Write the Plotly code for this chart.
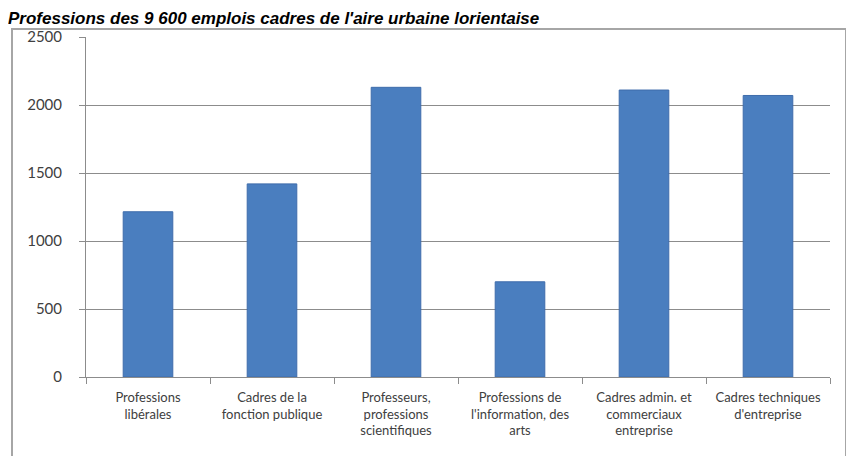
import plotly.graph_objects as go

categories = [
    "Professions<br>libérales",
    "Cadres de la<br>fonction publique",
    "Professeurs,<br>professions<br>scientifiques",
    "Professions de<br>l'information, des<br>arts",
    "Cadres admin. et<br>commerciaux<br>entreprise",
    "Cadres techniques<br>d'entreprise",
]
values = [1215, 1420, 2130, 700, 2110, 2070]
y_ticks = [0, 500, 1000, 1500, 2000, 2500]
title_text = "Professions des 9 600 emplois cadres de l'aire urbaine lorientaise"

# the page adds an 8px body margin, so the figure is sized to fit the window
W, H = 846, 448
L, R, T, B = 78, 24, 29, 79
pw, ph = W - L - R, H - T - B

def px(x):
    return (x - L) / pw

def py(y):
    return (H - B - y) / ph

fig = go.Figure()
fig.add_trace(go.Bar(
    x=categories, y=values, width=0.4,
    marker=dict(color="#4A7EBF", line=dict(color="#3E6CAB", width=1)),
))

fig.update_layout(
    width=W, height=H,
    margin=dict(l=L, r=R, t=T, b=B, autoexpand=False),
    paper_bgcolor="white", plot_bgcolor="white",
    showlegend=False,
    bargap=0.6,
    font=dict(family="Lato, Liberation Sans, sans-serif", color="#404040"),
    xaxis=dict(
        automargin=False,
        showline=True, linecolor="#8C8C8C", linewidth=1,
        ticks="outside", tickson="boundaries", ticklen=6, tickcolor="#8C8C8C",
        ticklabelstandoff=8,
        tickfont=dict(size=13, color="#404040"),
        showgrid=False,
    ),
    yaxis=dict(
        automargin=False,
        range=[0, 2500], tickvals=y_ticks,
        showline=True, linecolor="#8C8C8C", linewidth=1,
        ticks="outside", ticklen=6, tickcolor="#8C8C8C",
        ticklabelstandoff=14,
        tickfont=dict(size=15, color="#404040"),
        showgrid=True, gridcolor="#8C8C8C", gridwidth=1,
        zeroline=False,
    ),
    shapes=[dict(
        type="rect", xref="paper", yref="paper",
        x0=px(4), x1=px(838), y0=py(21), y1=py(470),
        line=dict(color="#A6A6A6", width=2), fillcolor="rgba(0,0,0,0)",
        layer="below",
    )],
    annotations=[dict(
        text="<b><i>" + title_text + "</i></b>",
        xref="paper", yref="paper",
        x=px(-1), y=py(0), xanchor="left", yanchor="top",
        showarrow=False, borderpad=0,
        font=dict(family="Liberation Sans, Arial, sans-serif", size=17, color="#000000"),
    )],
)

fig.write_html("out.html")
